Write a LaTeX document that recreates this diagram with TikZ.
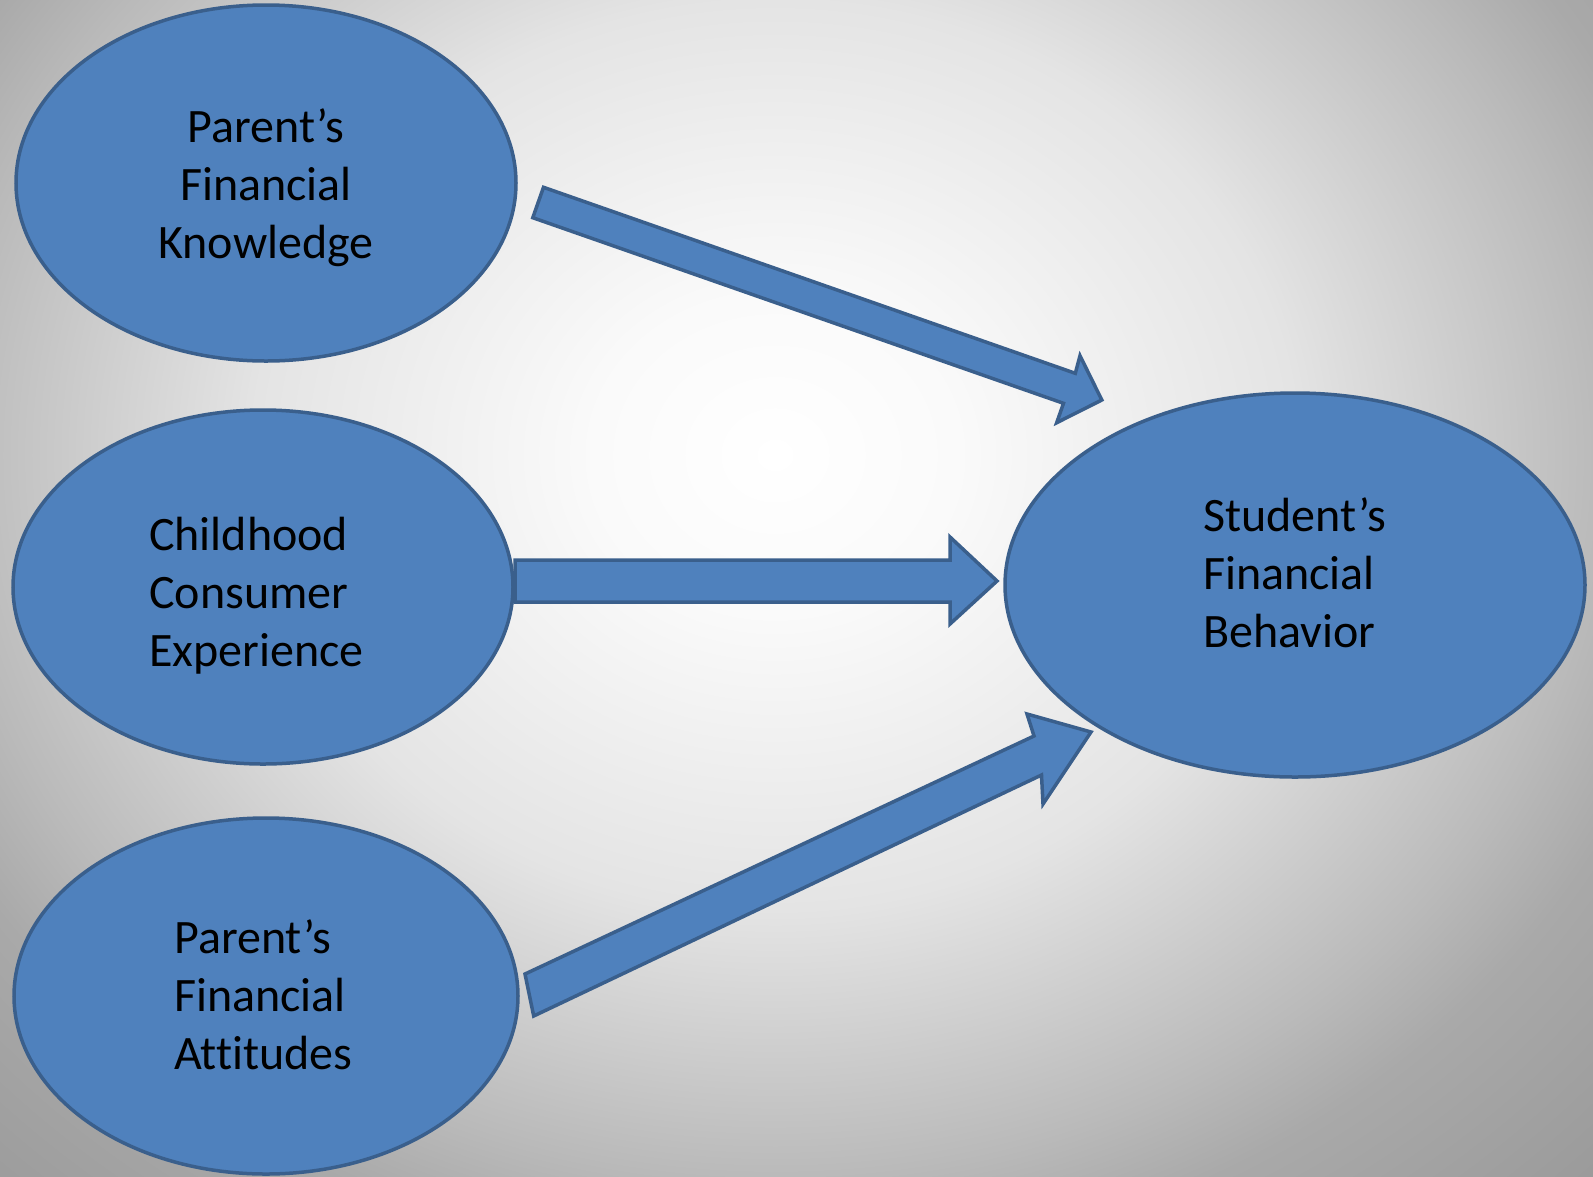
\documentclass[tikz,border=0pt]{standalone}
\usepackage{fontspec}
\setmainfont{Carlito}[Ligatures={NoCommon}]
\usetikzlibrary{calc,shapes.geometric}
\definecolor{ovalfill}{HTML}{4F81BD}
\definecolor{ovaledge}{HTML}{3A5F8C}
\definecolor{bgA}{gray}{1.0}
\definecolor{bgB}{gray}{0.98}
\definecolor{bgC}{gray}{0.894}
\definecolor{bgD}{gray}{0.729}
\definecolor{bgE}{gray}{0.663}
\definecolor{bgF}{gray}{0.604}
\definecolor{bgG}{gray}{0.588}
\pgfdeclareradialshading{bgshade}{\pgfpoint{0bp}{0bp}}{color(0bp)=(bgA); color(5bp)=(bgB); color(14.2bp)=(bgC); color(22.5bp)=(bgD); color(25.5bp)=(bgE); color(32bp)=(bgF); color(35.5bp)=(bgG); color(50bp)=(bgG)}
\tikzset{
  oval/.style={ellipse, draw=ovaledge, fill=ovalfill, line width=3.5pt, inner sep=0pt},
  barrow/.style={draw=ovaledge, fill=ovalfill, line width=3.5pt, line join=miter},
  lbl/.style={inner sep=0pt, font=\fontsize{48}{58}\selectfont, text=black}
}
\begin{document}
\begin{tikzpicture}[x=1pt,y=-1pt]
\useasboundingbox (0,0) rectangle (1593,1176);
\begin{scope}
\clip (0,0) rectangle (1593,1176);
\shade[shading=bgshade] (-144,-345) rectangle (1694,1255);
\end{scope}
% ovals
\node[oval, minimum width=500pt, minimum height=356pt] (pk) at (266,183) {};
\node[oval, minimum width=500pt, minimum height=354pt] (cc) at (263,587) {};
\node[oval, minimum width=504pt, minimum height=356pt] (pa) at (266,996) {};
\node[oval, minimum width=580pt, minimum height=384pt] (sb) at (1295,585) {};
% labels
\node[lbl, align=center] (pkt) at (266,188) {Parent’s\\Financial\\Knowledge};
\node[lbl, align=left, anchor=west] (cct) at (149,596) {Childhood\\Consumer\\Experience};
\node[lbl, align=left, anchor=west] (pat) at (174,995) {Parent’s\\Financial\\Attitudes};
\node[lbl, align=left, anchor=west] (sbt) at (1203,573) {Student’s\\Financial\\Behavior};
% arrow 1: Knowledge -> Behavior
\coordinate (a1tl) at (543.5,187.3);
\coordinate (a1tr) at (532.8,217.7);
\coordinate (a1il) at (1075.3,373.3);
\coordinate (a1ir) at (1063.5,403.3);
\coordinate (a1bl) at (1080,355.7);
\coordinate (a1br) at (1056.7,422.7);
\coordinate (a1e) at (1101.8,400);
\draw[barrow] (a1tl) -- (a1il) -- (a1bl) -- (a1e) -- (a1br) -- (a1ir) -- (a1tr) -- cycle;
% arrow 2: Experience -> Behavior
\coordinate (a2tl) at (515,560);
\coordinate (a2tr) at (515,602);
\coordinate (a2il) at (950,560);
\coordinate (a2ir) at (950,602);
\coordinate (a2bl) at (950,537);
\coordinate (a2br) at (950,624);
\coordinate (a2e) at (997,581);
\draw[barrow] (a2tl) -- (a2il) -- (a2bl) -- (a2e) -- (a2br) -- (a2ir) -- (a2tr) -- cycle;
% arrow 3: Attitudes -> Behavior
\coordinate (a3tl) at (525,974);
\coordinate (a3tr) at (533.7,1016);
\coordinate (a3il) at (1034,736);
\coordinate (a3ir) at (1041.5,775);
\coordinate (a3bl) at (1027,714);
\coordinate (a3br) at (1043,804);
\coordinate (a3e) at (1091,732);
\draw[barrow] (a3tl) -- (a3il) -- (a3bl) -- (a3e) -- (a3br) -- (a3ir) -- (a3tr) -- cycle;
\end{tikzpicture}
\end{document}
